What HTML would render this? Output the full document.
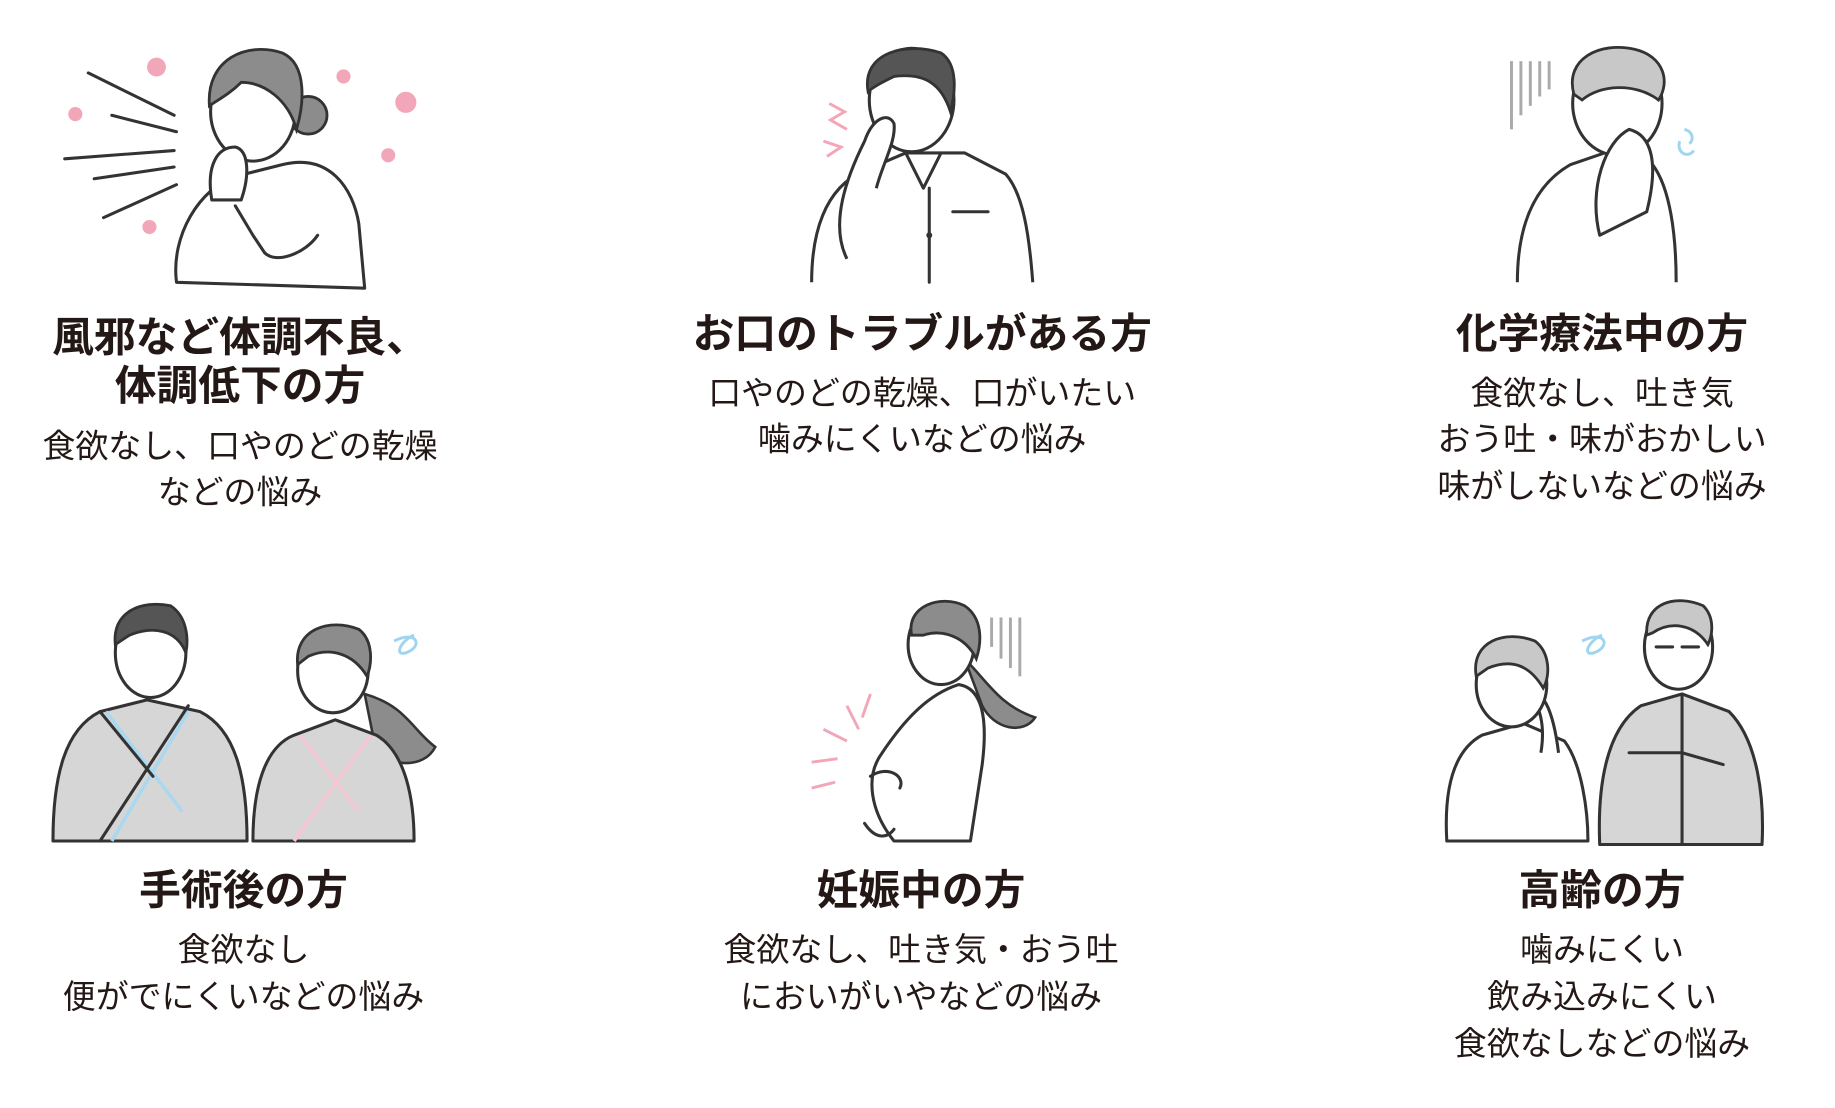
<!DOCTYPE html>
<html><head><meta charset="utf-8"><style>
html,body{margin:0;padding:0;background:#fff;width:1835px;height:1108px;overflow:hidden}
svg{display:block}
.t{font-family:"Liberation Sans","Noto Sans CJK JP",sans-serif;font-weight:700;font-size:35.5px;fill:#231815;text-anchor:middle}
.b{font-family:"Liberation Sans","Noto Sans CJK JP",sans-serif;font-weight:400;font-size:28px;fill:#231815;text-anchor:middle}
.l{fill:none;stroke:#333;stroke-width:2.6;stroke-linecap:round;stroke-linejoin:round}
.w{fill:#fff;stroke:#333;stroke-width:2.6;stroke-linejoin:round}
.g{fill:#d6d6d6;stroke:#333;stroke-width:2.6;stroke-linejoin:round}
</style></head><body>
<svg width="1835" height="1108" viewBox="0 0 1560 942" xmlns="http://www.w3.org/2000/svg">
<!-- Fig 1 -->
<g>
<g class="l"><line x1="75" y1="62" x2="148" y2="98"/><line x1="95" y1="98" x2="150" y2="112"/><line x1="55" y1="135" x2="148" y2="128"/><line x1="80" y1="152" x2="148" y2="142"/><line x1="88" y1="185" x2="150" y2="157"/></g>
<g fill="#f2a7b8"><circle cx="133" cy="57" r="8"/><circle cx="64" cy="97" r="6"/><circle cx="292" cy="65" r="6"/><circle cx="345" cy="87" r="9"/><circle cx="330" cy="132" r="6"/><circle cx="127" cy="193" r="6"/></g>
<path class="w" d="M150 240 C145 200 170 160 200 150 L240 140 C280 130 300 160 305 190 L310 245 Z"/>
<circle cx="262" cy="98" r="16" fill="#8c8c8c" stroke="#333" stroke-width="2.4"/>
<ellipse class="w" cx="215" cy="95" rx="36" ry="42"/>
<path d="M178 90 C175 50 210 35 240 45 C262 55 258 90 252 110 C245 85 225 70 205 70 C195 80 185 85 178 90Z" fill="#8c8c8c" stroke="#333" stroke-width="2.4"/>
<path class="w" d="M180 170 C175 140 185 125 200 125 C212 128 212 150 205 170 Z"/>
<path class="l" d="M200 175 L215 200 L225 215 C235 225 260 215 270 200"/>
</g>
<!-- Fig 2 -->
<g>
<path class="w" d="M690 240 C690 200 700 160 735 145 L770 130 L820 130 L855 148 C870 165 875 200 878 240"/>
<path class="l" d="M770 130 L785 160 L800 130 M790 160 L790 240 M810 180 L840 180"/>
<circle cx="790" cy="200" r="2.5" fill="#333"/>
<ellipse class="w" cx="775" cy="85" rx="36" ry="44"/>
<path d="M738 78 C732 45 770 35 800 45 C815 55 812 80 808 95 C800 70 785 62 760 65 C750 70 742 74 738 78Z" fill="#555" stroke="#333" stroke-width="2.4"/>
<path class="w" d="M720 220 C705 190 720 150 735 120 C742 100 755 95 760 105 C762 120 750 140 745 160"/>
<path fill="none" stroke="#f2a7b8" stroke-width="2.5" d="M705 88 L718 95 L706 102 L720 110 M700 120 L715 125 L703 133"/>
</g>
<!-- Fig 3 -->
<g>
<g stroke="#aaa" stroke-width="2.5"><line x1="1285" y1="52" x2="1285" y2="110"/><line x1="1293" y1="52" x2="1293" y2="98"/><line x1="1301" y1="52" x2="1301" y2="90"/><line x1="1309" y1="52" x2="1309" y2="82"/><line x1="1317" y1="52" x2="1317" y2="76"/></g>
<path class="w" d="M1290 240 C1290 200 1300 160 1335 140 L1370 128 L1405 140 C1420 160 1425 200 1425 240"/>
<ellipse class="w" cx="1375" cy="88" rx="38" ry="44"/>
<path d="M1338 80 C1330 50 1360 35 1390 42 C1415 48 1420 70 1410 85 C1390 70 1360 72 1345 85Z" fill="#c8c8c8" stroke="#333" stroke-width="2.4"/>
<path class="w" d="M1360 200 C1350 160 1365 120 1385 110 C1405 115 1410 140 1400 180 Z"/>
<path fill="none" stroke="#9fd5ef" stroke-width="2.5" d="M1428 120 C1425 130 1435 135 1440 128 M1432 110 C1440 112 1440 120 1436 122"/>
</g>
<!-- Fig 4 -->
<g>
<path class="g" d="M45 715 C45 660 55 620 85 605 L125 595 L170 605 C200 620 210 660 210 715 Z"/>
<path stroke="#a9d8f0" stroke-width="3" fill="none" d="M90 605 L155 690 M95 715 L160 605"/>
<path class="l" d="M85 715 L160 600 M85 605 L130 660"/>
<ellipse class="w" cx="128" cy="555" rx="30" ry="38"/>
<path d="M98 548 C95 520 120 510 145 515 C160 525 160 545 158 555 C150 535 130 532 110 540Z" fill="#555" stroke="#333" stroke-width="2.4"/>
<path d="M310 590 C345 600 350 620 370 635 C360 655 330 650 320 640Z" fill="#8c8c8c" stroke="#333" stroke-width="2.2"/>
<path class="g" d="M215 715 C215 670 225 635 250 625 L285 612 L320 625 C345 640 352 680 352 715 Z"/>
<path stroke="#f5c7d3" stroke-width="3" fill="none" d="M255 625 L305 690 M250 715 L315 625"/>
<ellipse class="w" cx="283" cy="570" rx="30" ry="36"/>
<path d="M253 565 C250 535 280 525 305 535 C318 545 316 565 312 575 C300 555 280 550 262 558Z" fill="#8c8c8c" stroke="#333" stroke-width="2.4"/>
<path fill="none" stroke="#9fd5ef" stroke-width="2.5" d="M335 545 C355 535 360 550 345 555 C335 558 340 545 352 540"/>
</g>
<!-- Fig 5 -->
<g>
<g stroke="#aaa" stroke-width="2.5"><line x1="843" y1="525" x2="843" y2="550"/><line x1="851" y1="525" x2="851" y2="560"/><line x1="859" y1="525" x2="859" y2="568"/><line x1="867" y1="525" x2="867" y2="575"/></g>
<path d="M820 560 C840 580 850 600 880 610 C870 625 845 620 835 600Z" fill="#8c8c8c" stroke="#333" stroke-width="2.2"/>
<path class="w" d="M760 715 C740 690 735 660 750 640 C770 610 790 590 815 582 C835 585 840 610 835 650 L825 715 Z"/>
<ellipse class="w" cx="800" cy="548" rx="28" ry="34"/>
<path d="M775 540 C770 515 800 505 820 515 C835 525 835 545 830 560 C820 540 800 535 785 540Z" fill="#8c8c8c" stroke="#333" stroke-width="2.4"/>
<path class="l" d="M740 660 C755 650 770 660 765 670 M735 700 C745 715 755 712 760 705"/>
<path fill="none" stroke="#f2a7b8" stroke-width="2.5" d="M740 590 L733 610 M720 600 L730 620 M700 620 L720 630 M690 648 L712 645 M690 670 L710 665"/>
</g>
<!-- Fig 6 -->
<g>
<path class="w" d="M1230 715 C1228 680 1232 640 1260 625 L1295 615 L1330 630 C1345 650 1350 690 1350 715 Z"/>
<path class="w" d="M1310 640 C1315 610 1305 595 1300 590 C1310 585 1320 600 1325 640"/>
<ellipse class="w" cx="1285" cy="582" rx="30" ry="36"/>
<path d="M1255 575 C1250 545 1280 535 1305 545 C1318 555 1318 575 1312 585 C1300 565 1285 560 1265 568Z" fill="#c8c8c8" stroke="#333" stroke-width="2.4"/>
<path class="g" d="M1360 718 C1358 670 1365 620 1395 600 L1430 590 L1470 605 C1495 630 1500 680 1498 718 Z"/>
<path class="l" d="M1385 640 L1430 640 L1465 650 M1430 590 L1430 718"/>
<ellipse class="w" cx="1427" cy="550" rx="29" ry="36"/>
<path d="M1400 540 C1398 512 1425 505 1448 515 C1458 525 1456 540 1452 548 C1440 530 1420 528 1405 538Z" fill="#c8c8c8" stroke="#333" stroke-width="2.4"/>
<path class="l" d="M1408 550 h14 M1430 550 h14"/>
<path fill="none" stroke="#9fd5ef" stroke-width="2.5" d="M1345 545 C1365 535 1370 550 1355 555 C1345 558 1350 545 1362 540"/>
</g>
<!-- Text -->
<text class="t" x="204" y="299">風邪など体調不良、</text>
<text class="t" x="204" y="340">体調低下の方</text>
<text class="b" x="204" y="389">食欲なし、口やのどの乾燥</text>
<text class="b" x="204" y="428">などの悩み</text>
<text class="t" x="784" y="296">お口のトラブルがある方</text>
<text class="b" x="784" y="344">口やのどの乾燥、口がいたい</text>
<text class="b" x="784" y="383">噛みにくいなどの悩み</text>
<text class="t" x="1362" y="296">化学療法中の方</text>
<text class="b" x="1362" y="344">食欲なし、吐き気</text>
<text class="b" x="1362" y="383">おう吐・味がおかしい</text>
<text class="b" x="1362" y="423">味がしないなどの悩み</text>
<text class="t" x="207" y="769">手術後の方</text>
<text class="b" x="207" y="817">食欲なし</text>
<text class="b" x="207" y="857">便がでにくいなどの悩み</text>
<text class="t" x="783" y="769">妊娠中の方</text>
<text class="b" x="783" y="817">食欲なし、吐き気・おう吐</text>
<text class="b" x="783" y="857">においがいやなどの悩み</text>
<text class="t" x="1362" y="769">高齢の方</text>
<text class="b" x="1362" y="817">噛みにくい</text>
<text class="b" x="1362" y="857">飲み込みにくい</text>
<text class="b" x="1362" y="897">食欲なしなどの悩み</text>
</svg>
</body></html>
